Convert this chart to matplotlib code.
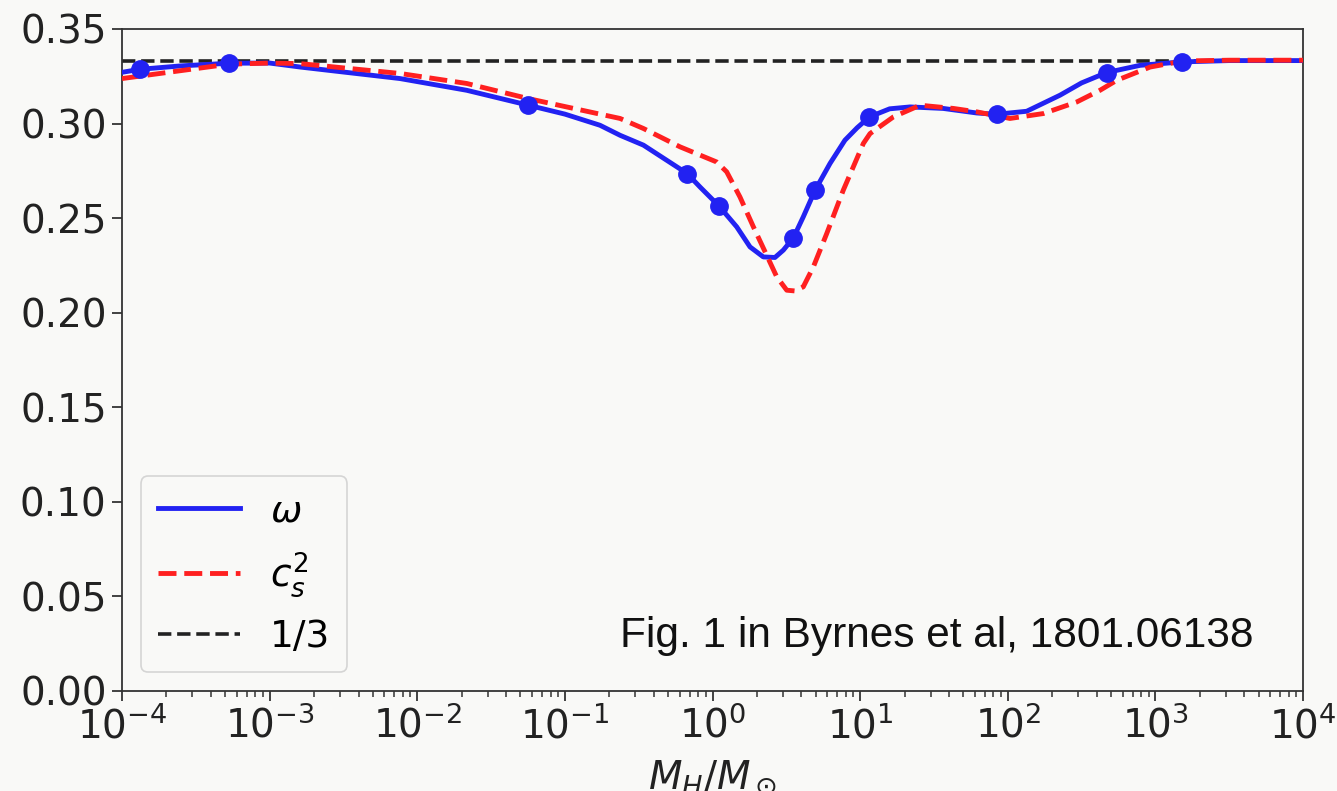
import numpy as np
import matplotlib
matplotlib.use("Agg")
import matplotlib.pyplot as plt

plt.rcParams["font.family"] = ["DejaVu Sans"]
plt.rcParams["mathtext.fontset"] = "dejavusans"

# ---- data (x given as log10(M_H/M_sun)) ----
w_logx = [-4.0, -3.878, -3.6, -3.275, -3.0, -2.794, -2.117, -1.665, -1.247, -1.0,
          -0.762, -0.626, -0.468, -0.172, -0.085, 0.043, 0.164, 0.254, 0.344, 0.423,
          0.480, 0.548, 0.615, 0.695, 0.796, 0.897, 0.98, 1.063, 1.2, 1.338,
          1.563, 1.790, 1.920, 2.128, 2.354, 2.5, 2.671, 2.897, 3.179, 3.5, 4.0]
w_vals = [0.3271, 0.3287, 0.3305, 0.3319, 0.3320, 0.3299, 0.3238, 0.3176, 0.3097, 0.3050,
          0.2991, 0.2938, 0.2886, 0.2736, 0.2665, 0.2565, 0.2454, 0.2348, 0.2295, 0.2292,
          0.2331, 0.2396, 0.2507, 0.2648, 0.2789, 0.2912, 0.2978, 0.3035, 0.3078, 0.3088,
          0.3080, 0.3056, 0.3049, 0.3065, 0.3150, 0.3215, 0.3270, 0.3308, 0.3326, 0.3333, 0.3333]

cs_logx = [-4.0, -3.6, -3.275, -3.0, -2.794, -2.117, -1.665, -1.247, -1.0, -0.626,
           -0.468, -0.220, 0.028, 0.096, 0.186, 0.277, 0.367, 0.435, 0.503, 0.560,
           0.615, 0.683, 0.774, 0.886, 1.022, 1.067, 1.225, 1.406, 1.632, 1.790,
           2.015, 2.241, 2.467, 2.625, 2.739, 2.965, 3.19, 3.5, 4.0]
cs_vals = [0.3238, 0.3280, 0.3314, 0.3320, 0.3317, 0.3265, 0.3212, 0.3132, 0.3090, 0.3027,
           0.2974, 0.2877, 0.2797, 0.2745, 0.2612, 0.2454, 0.2304, 0.2190, 0.2119, 0.2115,
           0.2137, 0.2242, 0.2419, 0.2648, 0.2895, 0.2947, 0.3035, 0.3097, 0.3080, 0.3062,
           0.3027, 0.3053, 0.3114, 0.3176, 0.3229, 0.3299, 0.3331, 0.3335, 0.3335]

mk_logx = [-3.878, -3.275, -1.247, -0.172, 0.043, 0.548, 0.695, 1.063, 1.926, 2.671, 3.179]
mk_vals = [0.3287, 0.3319, 0.3097, 0.2736, 0.2565, 0.2396, 0.2648, 0.3035, 0.3049, 0.3270, 0.3326]

third = 1.0 / 3.0
x_range = [1e-4, 1e4]
y_ticks = [0.00, 0.05, 0.10, 0.15, 0.20, 0.25, 0.30, 0.35]

# ---- plot ----
bg = "#f9f9f7"
fig = plt.figure(figsize=(13.37, 7.91), dpi=100, facecolor=bg)
ax = fig.add_axes([122 / 1337, 1 - 691 / 791, (1303 - 122) / 1337, (691 - 29) / 791])
ax.set_facecolor(bg)

blue = "#2222f2"
red = "#ff2020"
w_x = 10.0 ** np.array(w_logx)
cs_x = 10.0 ** np.array(cs_logx)
mk_x = 10.0 ** np.array(mk_logx)

ax.plot(w_x, w_vals, color=blue, lw=3.5, label=r"$\omega$", zorder=3,
        solid_joinstyle="round")
ax.plot(cs_x, cs_vals, color=red, lw=3.5, ls="--", label=r"$c_s^2$", zorder=4)
ax.plot(x_range, [third, third], color="#222222", lw=2.6, ls="--", label="1/3", zorder=2)
ax.plot(mk_x, mk_vals, "o", color=blue, ms=12.5, zorder=5)

ax.set_xscale("log")
ax.set_xlim(x_range)
ax.set_ylim(0, 0.35)
ax.set_yticks(y_ticks)
ax.set_yticklabels([f"{t:.2f}" for t in y_ticks])

for s in ax.spines.values():
    s.set_color("#333333")
    s.set_linewidth(1.3)
ax.tick_params(axis="both", which="major", labelsize=28, length=7, width=1.3,
               colors="#333333", labelcolor="#222222", pad=4)
ax.tick_params(axis="both", which="minor", length=4, width=1.1, colors="#333333")

ax.set_xlabel(r"$M_H/M_\odot$", fontsize=28, color="#222222", labelpad=9)

leg = ax.legend(loc="lower left", fontsize=27, frameon=True, fancybox=True,
                handlelength=2.2, borderpad=0.45, labelspacing=0.55)
leg.get_frame().set_facecolor(bg)
leg.get_frame().set_edgecolor("#cccccc")
leg.get_frame().set_linewidth(1.2)

ax.text(0.4217, 0.083, "Fig. 1 in Byrnes et al, 1801.06138", transform=ax.transAxes,
        fontsize=30.5, family=["Liberation Sans", "DejaVu Sans"], color="#111111",
        ha="left", va="center")

fig.savefig("out.png", dpi=100, facecolor=bg)
